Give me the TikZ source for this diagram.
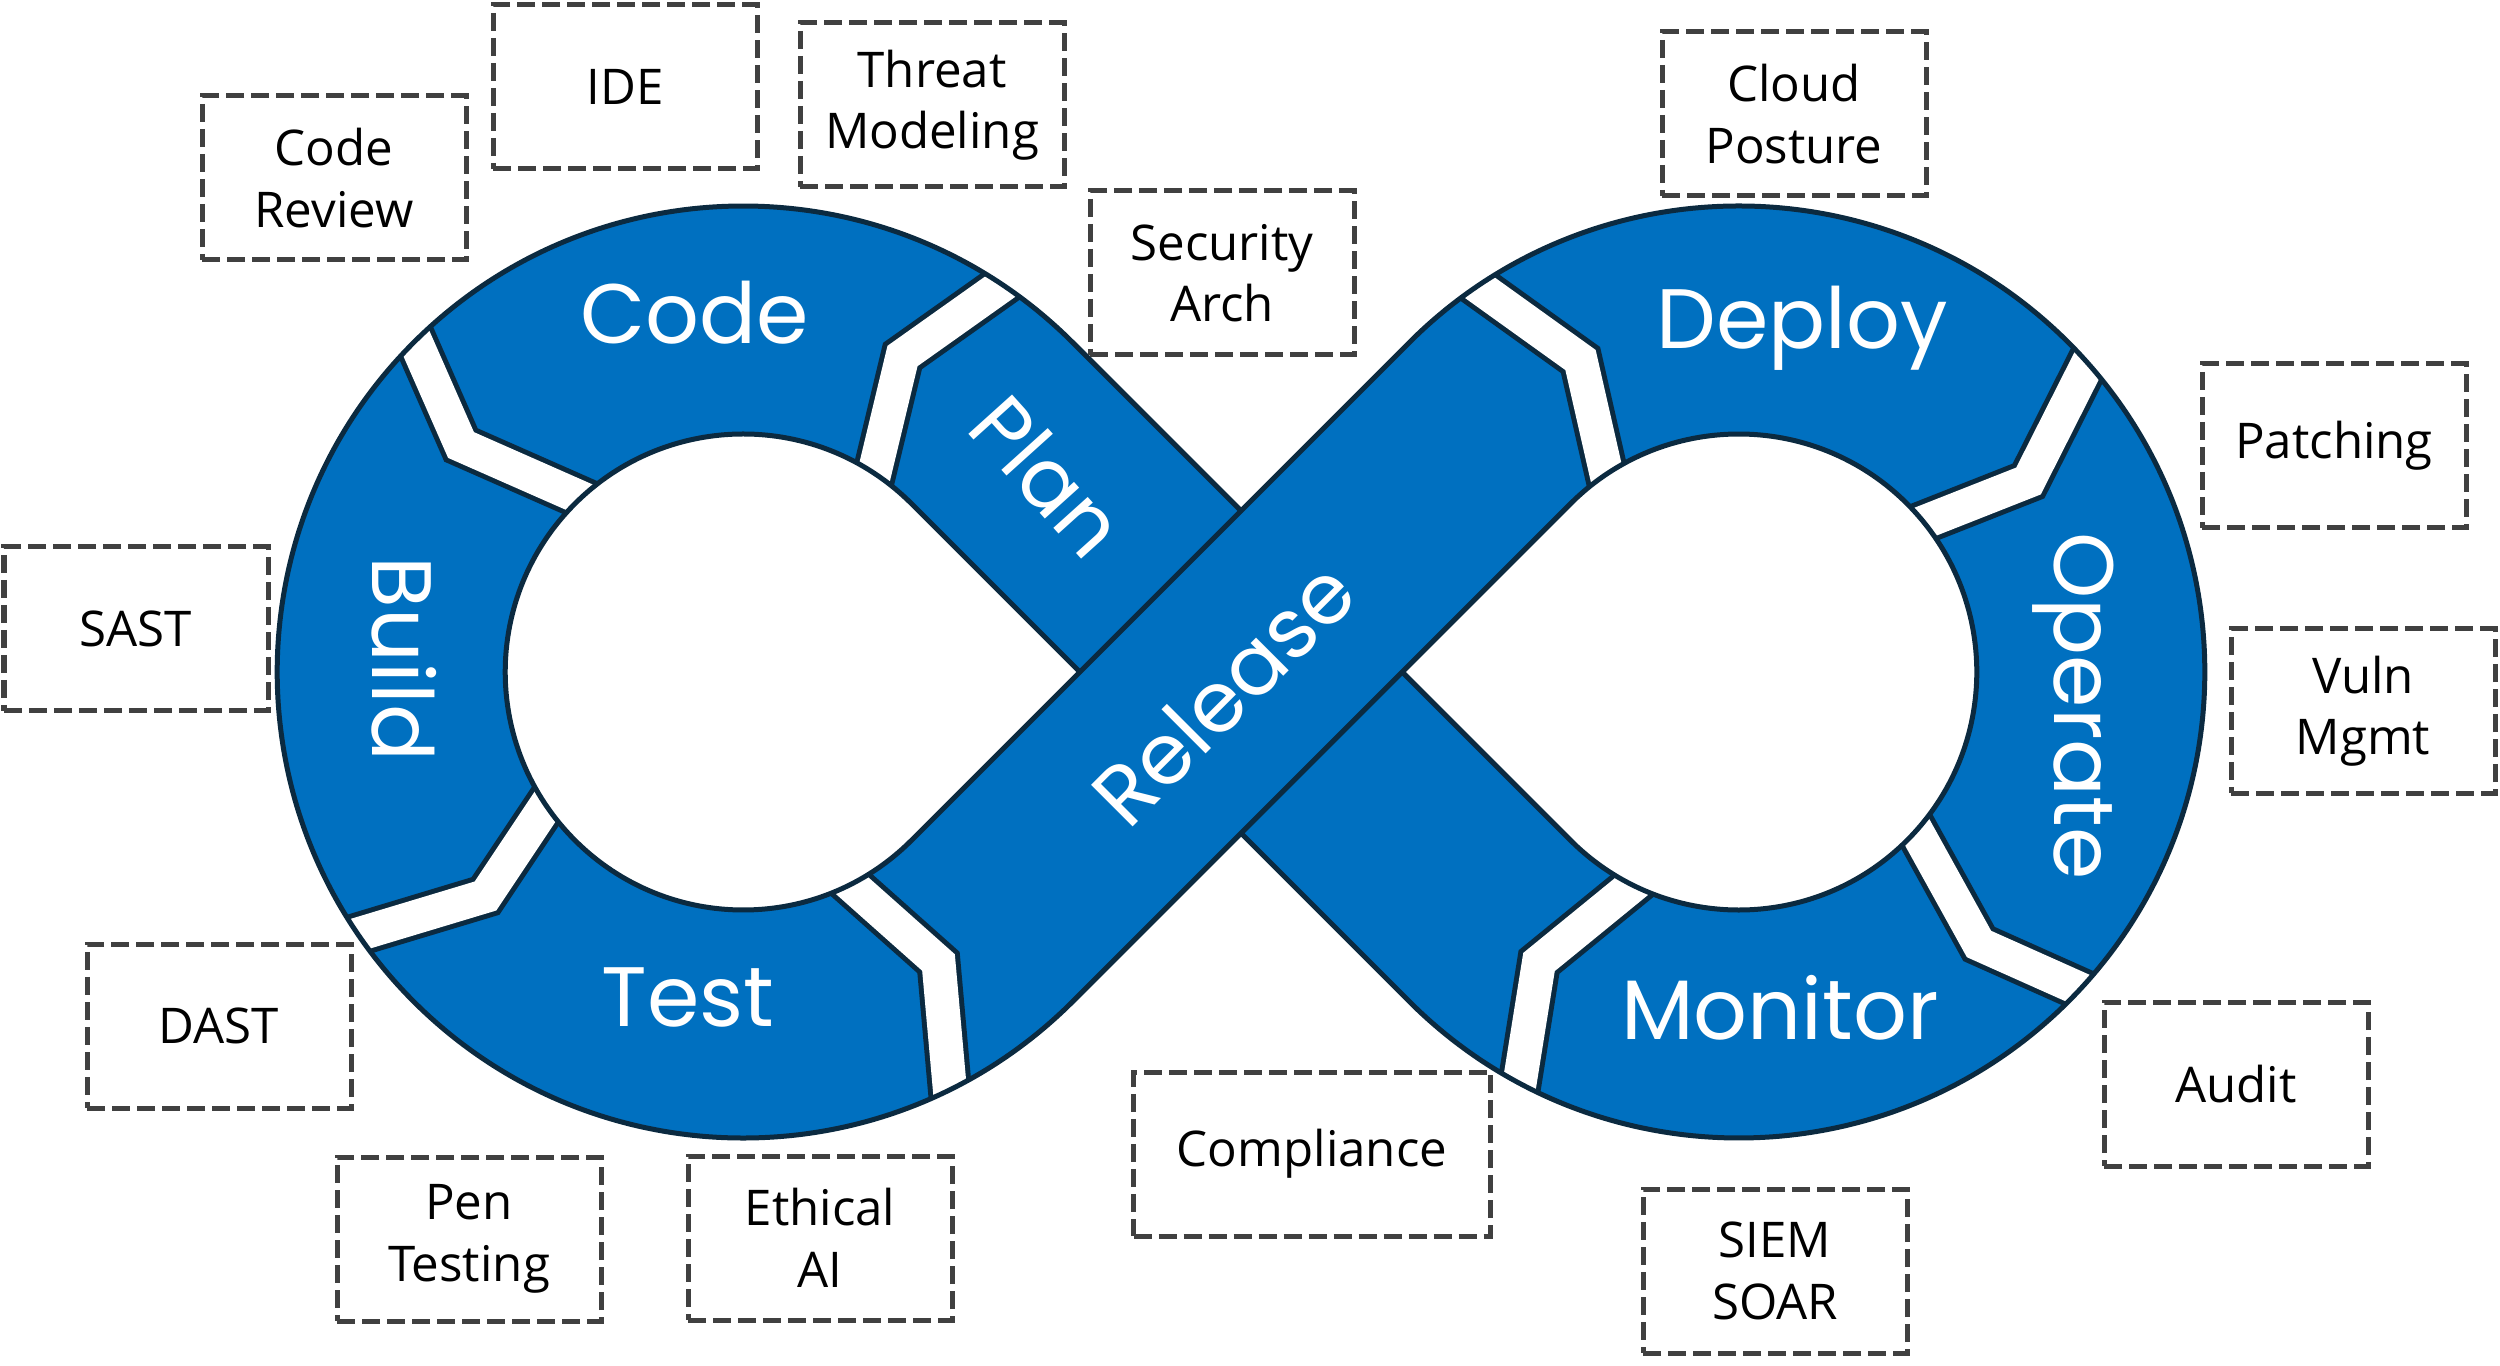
\documentclass[tikz,border=0pt]{standalone}
\usepackage{fontspec}
\setmainfont{Open Sans}
\newfontfamily\stagefont{Poppins}

\definecolor{ringblue}{HTML}{0070C0}
\definecolor{ringline}{HTML}{0B2A40}
\definecolor{boxline}{HTML}{404040}

\newcommand*{\rout}{4.66}
\newcommand*{\rin}{2.38}
\newcommand*{\hw}{1.612}
\newcommand*{\ringouter}{(-1.683,3.295) arc[start angle=45,end angle=315,radius=\rout] -- (0,-\hw) -- (1.683,-3.295) arc[start angle=225,end angle=495,radius=\rout] -- (0,\hw) -- cycle}
\newcommand*{\lefthole}{(-3.295,1.683) arc[start angle=45,end angle=315,radius=\rin] -- (-\hw,0) -- cycle}
\newcommand*{\righthole}{(3.295,-1.683) arc[start angle=225,end angle=495,radius=\rin] -- (\hw,0) -- cycle}

\begin{document}
\begin{tikzpicture}
[
	ring/.style={draw=ringline,line width=0.05cm,line join=round},
	gap/.style={draw=ringline,line width=0.05cm,double=white,double distance=0.34cm,line join=miter,shorten <=-0.3cm,shorten >=-0.3cm},
	stage/.style={text=white,inner sep=0pt,font=\stagefont\fontsize{24}{28}\selectfont},
	tool/.style={draw=boxline,line width=0.05cm,dash pattern=on 0.18cm off 0.07cm,minimum width=2.64cm,minimum height=1.64cm,align=center,inner sep=0pt,font=\fontsize{14}{17.5}\selectfont}
]
	\useasboundingbox (0,0) rectangle (25,-13.66);

	% the loop
	\begin{scope}[shift={(12.41,-6.72)}]
		\fill[ringblue] \ringouter;
		\begin{scope}
			\clip \ringouter;
			\draw[gap] (-2.42,3.845) -- (-3.385,3.16) -- (-3.665,1.995);
			\draw[gap] (-8.29,3.385) -- (-7.80,2.27) -- (-6.655,1.765);
			\draw[gap] (-6.895,-1.25) -- (-7.555,-2.24) -- (-8.70,-2.585);
			\draw[gap] (-3.93,-2.10) -- (-3.025,-2.905) -- (-2.915,-4.135);
			\draw[gap] (2.42,3.82) -- (3.395,3.12) -- (3.665,1.935);
			\draw[gap] (8.415,2.98) -- (7.875,1.91) -- (6.76,1.47);
			\draw[gap] (6.81,-1.69) -- (7.38,-2.72) -- (8.465,-3.205);
			\draw[gap] (3.905,-2.145) -- (2.98,-2.90) -- (2.79,-4.085);
		\end{scope}
		\filldraw[ring,fill=white] \lefthole;
		\filldraw[ring,fill=white] \righthole;
		\draw[ring] \ringouter;
		% release band on top
		\draw[ring] (-\hw,0) -- (0,\hw);
		\draw[ring] (0,-\hw) -- (\hw,0);
	\end{scope}

	% stages
	\node[stage] (code) at (6.95,-3.13) {Code};
	\node[stage,rotate=-48] (plan) at (10.48,-4.76) {Plan};
	\node[stage,rotate=-90] (build) at (4.04,-6.59) {Build};
	\node[stage] (test) at (6.88,-9.97) {Test};
	\node[stage,rotate=45] (release) at (12.23,-6.93) {Release};
	\node[stage] (deploy) at (18.02,-3.28) {Deploy};
	\node[stage,rotate=-90] (operate) at (20.73,-7.06) {Operate};
	\node[stage] (monitor) at (17.80,-10.08) {Monitor};

	% tools
	\node[tool] (review) at (3.34,-1.78) {Code\\Review};
	\node[tool] (ide) at (6.25,-0.87) {IDE};
	\node[tool] (threat) at (9.32,-1.05) {Threat\\Modeling};
	\node[tool] (arch) at (12.22,-2.73) {Security\\Arch};
	\node[tool] (cloud) at (17.94,-1.14) {Cloud\\Posture};
	\node[tool] (patching) at (23.34,-4.46) {Patching};
	\node[tool] (vuln) at (23.63,-7.11) {Vuln\\Mgmt};
	\node[tool] (audit) at (22.36,-10.84) {Audit};
	\node[tool] (siem) at (17.75,-12.71) {SIEM\\SOAR};
	\node[tool,minimum width=3.57cm] (compliance) at (13.12,-11.54) {Compliance};
	\node[tool] (ethical) at (8.20,-12.38) {Ethical\\AI};
	\node[tool] (pen) at (4.69,-12.39) {Pen\\Testing};
	\node[tool] (dast) at (2.19,-10.26) {DAST};
	\node[tool] (sast) at (1.36,-6.29) {SAST};

\end{tikzpicture}
\end{document}
